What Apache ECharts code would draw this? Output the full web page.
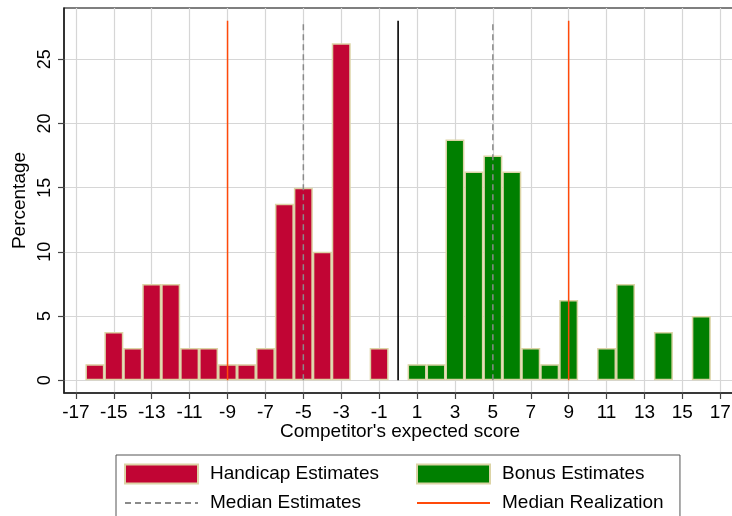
<!DOCTYPE html>
<html><head><meta charset="utf-8">
<script src="https://cdn.jsdelivr.net/npm/echarts@6/dist/echarts.min.js"></script>
<style>html,body{margin:0;padding:0;background:#fff}#c{width:732px;height:516px}</style>
</head><body><div id="c"></div>
<script>
// ---- data ----
const handicapScores = [-16, -15, -14, -13, -12, -11, -10, -9, -8, -7, -6, -5, -4, -3, -1];
const handicapPct    = [1.25, 3.75, 2.5, 7.5, 7.5, 2.5, 2.5, 1.25, 1.25, 2.5, 13.75, 15, 10, 26.25, 2.5];
const bonusScores    = [1, 2, 3, 4, 5, 6, 7, 8, 9, 11, 12, 14, 16];
const bonusPct       = [1.25, 1.25, 18.75, 16.25, 17.5, 16.25, 2.5, 1.25, 6.25, 2.5, 7.5, 3.75, 5];
const medianEstimates   = [-5, 5];
const medianRealization = [-9, 9];
const zeroLine = [0];
const lineTop = 28;
const xTicks = [-17, -15, -13, -11, -9, -7, -5, -3, -1, 1, 3, 5, 7, 9, 11, 13, 15, 17];
const yTicks = [0, 5, 10, 15, 20, 25];
const xRange = [-17.63, 17.83];
const yRange = [-1, 29];

const FONT = '"Liberation Sans", Arial, Helvetica, sans-serif';
const chart = echarts.init(document.getElementById('c'), null, {renderer: 'canvas'});

const vline = (name, x, color, type, width) => ({
  name: name, type: 'line', data: [[x, 0], [x, lineTop]], symbol: 'none',
  lineStyle: {color: color, width: width, type: type}, itemStyle: {color: color},
  z: 3, silent: true
});

const barStyle = (fill) => ({color: fill, borderColor: '#DCD4A6', borderWidth: 1.5});

const legendCommon = {
  orient: 'vertical', itemWidth: 73, itemHeight: 19, itemGap: 9, selectedMode: false, height: 120,
  textStyle: {fontSize: 19, fontFamily: FONT, color: '#000', padding: [0, 0, 0, 7]}
};

chart.setOption({
  animation: false,
  backgroundColor: '#fff',
  grid: {left: 64, top: 8, width: 672, height: 385, containLabel: false, outerBoundsMode: 'none',
         show: true, borderColor: '#000', borderWidth: 1.2, backgroundColor: 'transparent'},
  xAxis: {
    type: 'value', min: xRange[0], max: xRange[1],
    name: "Competitor's expected score", nameLocation: 'middle', nameGap: 29, nameMoveOverlap: false,
    nameTextStyle: {fontSize: 19, fontFamily: FONT, color: '#000'},
    axisLine: {show: true, onZero: false, lineStyle: {color: '#222', width: 1.5}},
    axisTick: {show: true, length: 6, customValues: xTicks, lineStyle: {color: '#444', width: 1.2}},
    axisLabel: {customValues: xTicks, fontSize: 19, fontFamily: FONT, color: '#000', margin: 10},
    splitLine: {show: true, lineStyle: {color: '#d6d6d6', width: 1.2}}
  },
  yAxis: {
    type: 'value', min: yRange[0], max: yRange[1],
    name: 'Percentage', nameLocation: 'middle', nameGap: 35, nameMoveOverlap: false,
    nameTextStyle: {fontSize: 19, fontFamily: FONT, color: '#000'},
    axisLine: {show: true, onZero: false, lineStyle: {color: '#222', width: 1.5}},
    axisTick: {show: true, length: 6, customValues: yTicks, lineStyle: {color: '#444', width: 1.2}},
    axisLabel: {customValues: yTicks, rotate: 90, fontSize: 18, fontFamily: FONT, color: '#000', margin: 10},
    splitLine: {show: true, lineStyle: {color: '#d6d6d6', width: 1.2}}
  },
  legend: [
    Object.assign({}, legendCommon, {
      left: 116, top: 455, padding: [8.5, 301, 40, 8],
      borderColor: '#555', borderWidth: 1, backgroundColor: '#fff',
      data: [{name: 'Handicap Estimates', icon: 'rect'}, {name: 'Median Estimates', itemStyle: {opacity: 0}}]
    }),
    Object.assign({}, legendCommon, {
      left: 416, top: 463.5, padding: 0, z: 5,
      data: [{name: 'Bonus Estimates', icon: 'rect'}, {name: 'Median Realization', itemStyle: {opacity: 0}}]
    })
  ],
  series: [
    {name: 'Handicap Estimates', type: 'bar', barWidth: '100%', barGap: '-100%',
     data: handicapScores.map((x, i) => [x, handicapPct[i]]), itemStyle: barStyle('#C10534')},
    {name: 'Bonus Estimates', type: 'bar', barWidth: '100%', barGap: '-100%',
     data: bonusScores.map((x, i) => [x, bonusPct[i]]), itemStyle: barStyle('#007F00')},
    ...medianEstimates.map(x => vline('Median Estimates', x, '#8a8a8a', [6, 4], 1.5)),
    ...medianRealization.map(x => vline('Median Realization', x, '#FF4A0A', 'solid', 1.5)),
    ...zeroLine.map(x => vline('Zero', x, '#000', 'solid', 1.6))
  ]
});
</script></body></html>
